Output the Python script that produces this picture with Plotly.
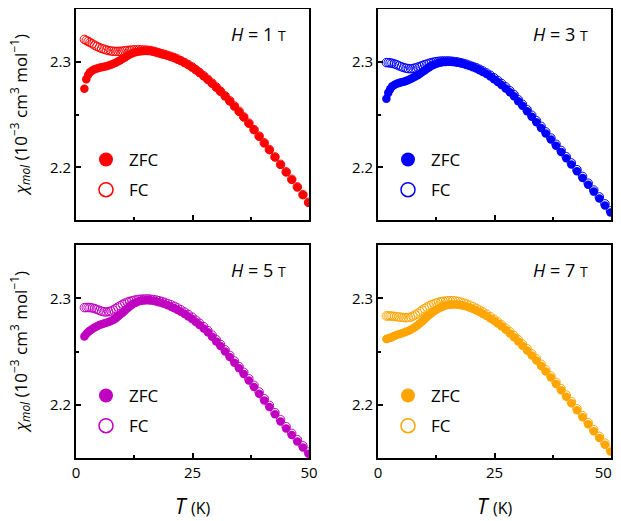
import plotly.graph_objects as go
from plotly.subplots import make_subplots

# Temperature grid (K)
T = [1.8, 2.2, 2.6, 3.0, 3.5, 4.0, 4.5, 5.0, 5.5, 6.0, 6.5, 7.0, 7.5, 8.0, 8.5, 9.0, 9.5,
     10.0, 10.5, 11.0, 11.5, 12.0, 12.5, 13.0, 13.5, 14.0, 14.5, 15.0, 15.5, 16.0, 16.6,
     17.2, 17.8, 18.4, 19.0, 19.7, 20.4, 21.1, 21.8, 22.5, 23.3, 24.1, 24.9, 25.7, 26.5,
     27.4, 28.3, 29.2, 30.1, 31.0, 32.0, 33.0, 34.0, 35.0, 36.0, 37.1, 38.2, 39.3, 40.4,
     41.5, 42.7, 43.9, 45.1, 46.3, 47.5, 48.7, 49.9]

# H = 1 T
zfc_1T = [2.2745, 2.2835, 2.2875, 2.2900, 2.2916, 2.2928, 2.2937, 2.2943, 2.2948, 2.2953,
          2.2958, 2.2964, 2.2971, 2.2980, 2.2990, 2.3002, 2.3015, 2.3028, 2.3041, 2.3055,
          2.3068, 2.3079, 2.3087, 2.3093, 2.3097, 2.3100, 2.3101, 2.3102, 2.3102, 2.3101,
          2.3096, 2.3089, 2.3082, 2.3074, 2.3066, 2.3056, 2.3046, 2.3035, 2.3022, 2.3007,
          2.2989, 2.2969, 2.2947, 2.2922, 2.2895, 2.2863, 2.2829, 2.2793, 2.2756, 2.2717,
          2.2673, 2.2626, 2.2577, 2.2526, 2.2473, 2.2414, 2.2353, 2.2291, 2.2228, 2.2164,
          2.2094, 2.2024, 2.1953, 2.1882, 2.1810, 2.1737, 2.1664]
fc_1T = [2.3212, 2.3202, 2.3193, 2.3183, 2.3170, 2.3157, 2.3145, 2.3135, 2.3126, 2.3119,
         2.3112, 2.3106, 2.3102, 2.3099, 2.3098, 2.3098, 2.3099, 2.3101, 2.3104, 2.3107,
         2.3109, 2.3111, 2.3112, 2.3113, 2.3113, 2.3112, 2.3111, 2.3110, 2.3108, 2.3106,
         2.3100, 2.3092, 2.3084, 2.3076, 2.3070, 2.3060, 2.3050, 2.3039, 2.3026, 2.3011,
         2.2993, 2.2973, 2.2951, 2.2926, 2.2899, 2.2867, 2.2833, 2.2797, 2.2760, 2.2721,
         2.2677, 2.2630, 2.2581, 2.2530, 2.2477, 2.2418, 2.2357, 2.2295, 2.2232, 2.2168,
         2.2098, 2.2028, 2.1957, 2.1886, 2.1814, 2.1741, 2.1668]

# H = 3 T
zfc_3T = [2.2650, 2.2705, 2.2740, 2.2765, 2.2780, 2.2792, 2.2799, 2.2805, 2.2811, 2.2818,
          2.2826, 2.2836, 2.2848, 2.2860, 2.2873, 2.2887, 2.2902, 2.2918, 2.2933, 2.2948,
          2.2961, 2.2972, 2.2982, 2.2989, 2.2994, 2.2997, 2.2998, 2.2999, 2.2999, 2.2998,
          2.2995, 2.2991, 2.2985, 2.2978, 2.2970, 2.2960, 2.2948, 2.2935, 2.2920, 2.2903,
          2.2883, 2.2860, 2.2835, 2.2808, 2.2780, 2.2747, 2.2710, 2.2673, 2.2625, 2.2582,
          2.2530, 2.2478, 2.2426, 2.2373, 2.2320, 2.2262, 2.2203, 2.2144, 2.2085, 2.2026,
          2.1962, 2.1898, 2.1834, 2.1769, 2.1704, 2.1638, 2.1572]
fc_3T = [2.2992, 2.2991, 2.2989, 2.2986, 2.2980, 2.2972, 2.2962, 2.2953, 2.2945, 2.2939,
         2.2935, 2.2934, 2.2936, 2.2941, 2.2948, 2.2956, 2.2964, 2.2972, 2.2979, 2.2986,
         2.2992, 2.2997, 2.3001, 2.3004, 2.3006, 2.3007, 2.3007, 2.3007, 2.3006, 2.3004,
         2.3001, 2.2997, 2.2991, 2.2984, 2.2976, 2.2966, 2.2955, 2.2943, 2.2929, 2.2913,
         2.2894, 2.2872, 2.2848, 2.2822, 2.2795, 2.2762, 2.2725, 2.2688, 2.2640, 2.2597,
         2.2545, 2.2493, 2.2441, 2.2388, 2.2335, 2.2277, 2.2218, 2.2159, 2.2100, 2.2041,
         2.1977, 2.1913, 2.1849, 2.1784, 2.1719, 2.1653, 2.1587]

# H = 5 T
zfc_5T = [2.2642, 2.2665, 2.2683, 2.2697, 2.2712, 2.2725, 2.2737, 2.2748, 2.2756, 2.2763,
          2.2769, 2.2777, 2.2786, 2.2797, 2.2811, 2.2829, 2.2847, 2.2865, 2.2884, 2.2903,
          2.2922, 2.2938, 2.2952, 2.2963, 2.2971, 2.2977, 2.2980, 2.2982, 2.2982, 2.2980,
          2.2976, 2.2970, 2.2963, 2.2955, 2.2946, 2.2934, 2.2921, 2.2906, 2.2890, 2.2873,
          2.2852, 2.2829, 2.2805, 2.2778, 2.2750, 2.2717, 2.2680, 2.2638, 2.2595, 2.2551,
          2.2500, 2.2448, 2.2395, 2.2342, 2.2289, 2.2228, 2.2166, 2.2104, 2.2041, 2.1978,
          2.1910, 2.1843, 2.1778, 2.1716, 2.1656, 2.1598, 2.1540]
fc_5T = [2.2912, 2.2913, 2.2913, 2.2912, 2.2909, 2.2903, 2.2895, 2.2886, 2.2878, 2.2873,
         2.2871, 2.2874, 2.2880, 2.2890, 2.2903, 2.2917, 2.2930, 2.2943, 2.2954, 2.2963,
         2.2970, 2.2976, 2.2981, 2.2986, 2.2989, 2.2991, 2.2992, 2.2993, 2.2993, 2.2991,
         2.2988, 2.2983, 2.2977, 2.2970, 2.2962, 2.2951, 2.2939, 2.2925, 2.2909, 2.2892,
         2.2871, 2.2848, 2.2823, 2.2795, 2.2766, 2.2733, 2.2696, 2.2654, 2.2611, 2.2567,
         2.2516, 2.2464, 2.2411, 2.2358, 2.2305, 2.2244, 2.2182, 2.2120, 2.2057, 2.1994,
         2.1926, 2.1859, 2.1794, 2.1732, 2.1672, 2.1614, 2.1556]

# H = 7 T
zfc_7T = [2.2617, 2.2622, 2.2628, 2.2636, 2.2645, 2.2654, 2.2662, 2.2670, 2.2677, 2.2685,
          2.2693, 2.2704, 2.2716, 2.2730, 2.2747, 2.2765, 2.2784, 2.2804, 2.2824, 2.2843,
          2.2861, 2.2877, 2.2891, 2.2904, 2.2915, 2.2924, 2.2932, 2.2937, 2.2940, 2.2941,
          2.2941, 2.2939, 2.2935, 2.2929, 2.2922, 2.2912, 2.2900, 2.2886, 2.2870, 2.2853,
          2.2833, 2.2811, 2.2788, 2.2763, 2.2736, 2.2704, 2.2670, 2.2634, 2.2595, 2.2555,
          2.2510, 2.2463, 2.2415, 2.2365, 2.2313, 2.2255, 2.2196, 2.2136, 2.2075, 2.2014,
          2.1948, 2.1882, 2.1817, 2.1752, 2.1688, 2.1624, 2.1560]
fc_7T = [2.2834, 2.2834, 2.2833, 2.2832, 2.2830, 2.2827, 2.2824, 2.2821, 2.2819, 2.2818,
         2.2819, 2.2823, 2.2832, 2.2844, 2.2858, 2.2873, 2.2889, 2.2903, 2.2917, 2.2929,
         2.2939, 2.2948, 2.2955, 2.2962, 2.2967, 2.2971, 2.2974, 2.2976, 2.2977, 2.2977,
         2.2975, 2.2970, 2.2963, 2.2955, 2.2946, 2.2934, 2.2921, 2.2906, 2.2889, 2.2871,
         2.2850, 2.2827, 2.2803, 2.2778, 2.2751, 2.2719, 2.2685, 2.2649, 2.2610, 2.2570,
         2.2525, 2.2478, 2.2430, 2.2380, 2.2328, 2.2270, 2.2211, 2.2151, 2.2090, 2.2029,
         2.1963, 2.1897, 2.1832, 2.1767, 2.1703, 2.1639, 2.1575]

fields = ["1", "3", "5", "7"]
zfc_sets = [zfc_1T, zfc_3T, zfc_5T, zfc_7T]
fc_sets = [fc_1T, fc_3T, fc_5T, fc_7T]
colors = ["#FF0000", "#0000FF", "#C000C0", "#FFA500"]

x_ticks = [0, 25, 50]
x_tick_labels = ["0", "25", "50"]
y_ticks = [2.2, 2.3]
y_tick_labels = ["2.2", "2.3"]

FONT = "Open Sans"
OFF = 8                 # page body margin
W, H = 613, 513         # figure size (fills the 621x521 window after the body margin)

# panel pixel boxes in window coordinates (left, right) / (top, bottom)
xdom = [(76 - OFF, 309 - OFF), (378 - OFF, 611 - OFF)]
ydom = [(9 - OFF, 220 - OFF), (245 - OFF, 458 - OFF)]

fig = make_subplots(rows=2, cols=2)

for i in range(4):
    r, c = i // 2 + 1, i % 2 + 1
    leg = "legend" if i == 0 else f"legend{i+1}"
    col = colors[i]
    fig.add_trace(go.Scatter(x=T, y=fc_sets[i], mode="markers", showlegend=False,
                             marker=dict(symbol="circle-open", size=8.5, color=col,
                                         line=dict(width=1, color=col))), row=r, col=c)
    fig.add_trace(go.Scatter(x=T, y=zfc_sets[i], mode="markers", showlegend=False,
                             marker=dict(symbol="circle", size=8.5, color=col,
                                         line=dict(width=0))), row=r, col=c)
    # legend entries
    fig.add_trace(go.Scatter(x=[None], y=[None], mode="markers", name="ZFC", legend=leg,
                             legendgroup=f"z{i}", legendrank=1,
                             marker=dict(symbol="circle", size=14, color=col)), row=r, col=c)
    fig.add_trace(go.Scatter(x=[None], y=[None], mode="markers", name="FC", legend=leg,
                             legendgroup=f"f{i}", legendrank=2,
                             marker=dict(symbol="circle-open", size=14, color=col,
                                         line=dict(width=1.5, color=col))), row=r, col=c)

layout_updates = {}
for i in range(4):
    r, c = i // 2, i % 2
    xl, xr = xdom[c]
    yt, yb = ydom[r]
    n = "" if i == 0 else str(i + 1)
    ttext = list(x_tick_labels)
    if c == 1:
        # pad the last label so it stays inside the visible window
        ttext[-1] = ttext[-1] + "\u00a0\u00a0\u00a0\u00a0"
    layout_updates[f"xaxis{n}"] = dict(
        domain=[xl / W, xr / W], range=[0, 50], tickvals=x_ticks, ticktext=ttext,
        showticklabels=(r == 1), ticks="inside", ticklen=5, tickwidth=1.5, tickcolor="black",
        ticklabeloverflow="allow",
        minor=dict(tickvals=[12.5, 37.5], ticks="inside", ticklen=3, tickwidth=1.5, tickcolor="black"),
        showline=True, linewidth=2, linecolor="black", mirror=True, showgrid=False, zeroline=False,
        tickfont=dict(family=FONT, size=15, color="black"), automargin=False)
    layout_updates[f"yaxis{n}"] = dict(
        domain=[1 - yb / H, 1 - yt / H], range=[2.15, 2.35], tickvals=y_ticks, ticktext=y_tick_labels,
        ticks="inside", ticklen=5, tickwidth=1.5, tickcolor="black",
        minor=dict(tickvals=[2.25], ticks="inside", ticklen=3, tickwidth=1.5, tickcolor="black"),
        showline=True, linewidth=2, linecolor="black", mirror=True, showgrid=False, zeroline=False,
        tickfont=dict(family=FONT, size=15, color="black"), automargin=False)
    legname = "legend" if i == 0 else f"legend{i+1}"
    layout_updates[legname] = dict(
        x=(xl + 7) / W, y=1 - (yt + 133) / H, xanchor="left", yanchor="top",
        bgcolor="rgba(0,0,0,0)", borderwidth=0, traceorder="grouped", tracegroupgap=5,
        font=dict(family=FONT, size=17, color="black"), itemsizing="trace", itemwidth=36)

fig.update_layout(**layout_updates)

annotations = []
for i in range(4):
    r, c = i // 2, i % 2
    n = "" if i == 0 else str(i + 1)
    annotations.append(dict(
        xref=f"x{n} domain", yref=f"y{n} domain", x=0.91, y=0.882, xanchor="right", yanchor="middle",
        showarrow=False, font=dict(family=FONT, size=18, color="black"),
        text=f"<i>H</i> = {fields[i]} <span style='font-size:14px'>T</span>"))

ytitle = "<i>χ<sub>mol</sub></i> (10<sup>−3</sup> cm<sup>3</sup> mol<sup>−1</sup>)"
for r in range(2):
    yt, yb = ydom[r]
    annotations.append(dict(xref="paper", yref="paper", x=(20 - OFF) / W, y=1 - ((yt + yb) / 2) / H,
                            xanchor="center", yanchor="middle", textangle=-90, showarrow=False,
                            font=dict(family=FONT, size=17, color="black"), text=ytitle))
for c in range(2):
    xl, xr = xdom[c]
    annotations.append(dict(xref="paper", yref="paper", x=(xl + xr) / 2 / W, y=1 - (506 - OFF) / H,
                            xanchor="center", yanchor="middle", showarrow=False,
                            font=dict(family=FONT, size=21, color="black"),
                            text="<i>T</i> <span style='font-size:16px'>(K)</span>"))

fig.update_layout(annotations=annotations, width=W, height=H, autosize=False,
                  margin=dict(l=0, r=0, t=0, b=0, autoexpand=False),
                  plot_bgcolor="white", paper_bgcolor="white",
                  font=dict(family=FONT, color="black"))

fig.write_html("out.html")
